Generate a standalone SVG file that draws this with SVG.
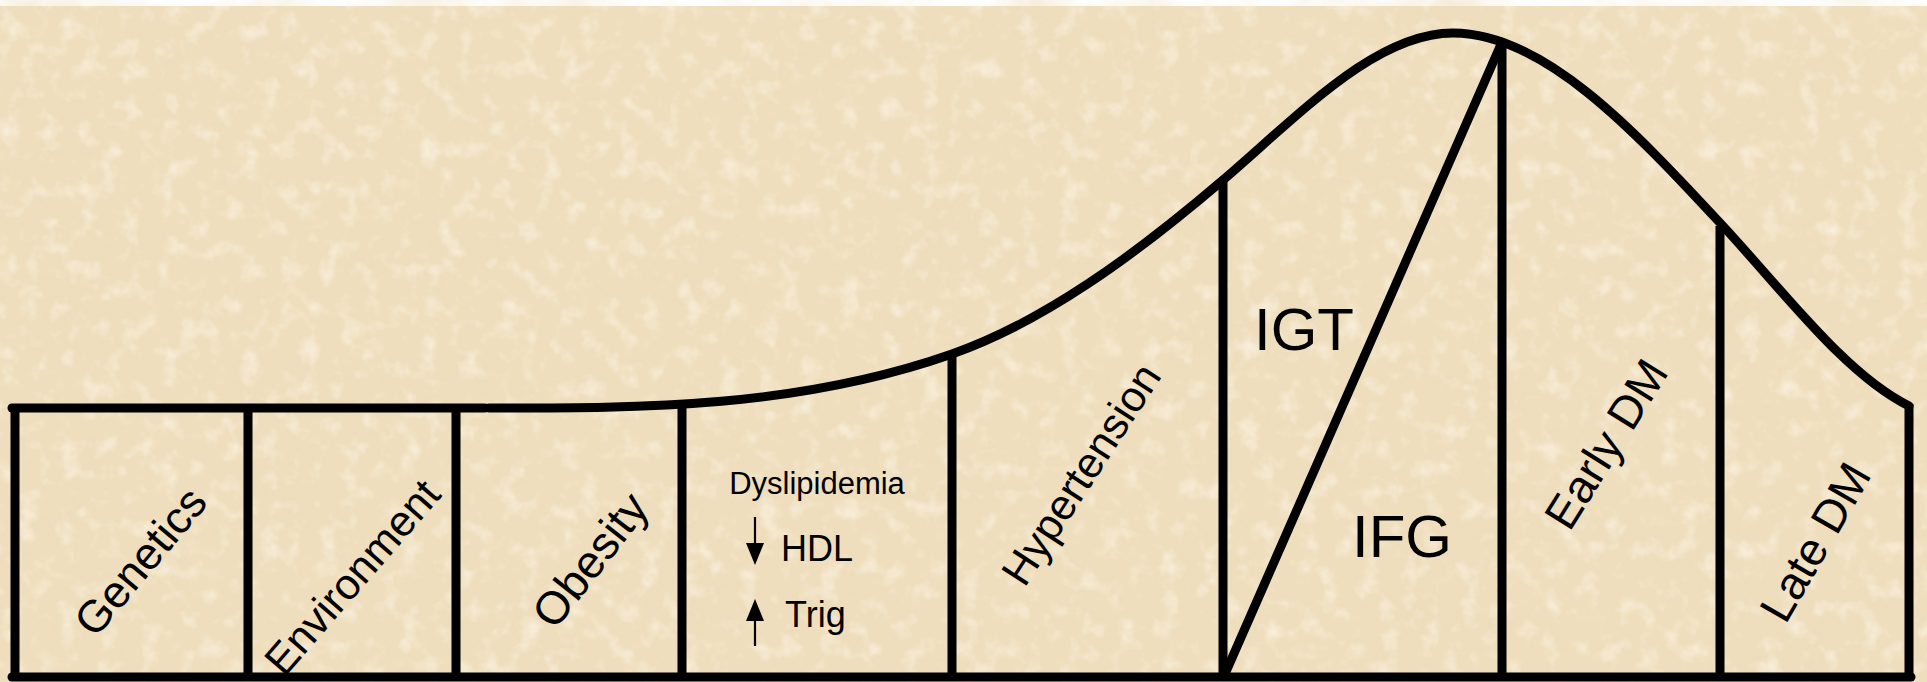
<svg xmlns="http://www.w3.org/2000/svg" width="1927" height="682" viewBox="0 0 1927 682">
  <defs>
    <filter id="paper" x="0" y="0" width="100%" height="100%" filterUnits="userSpaceOnUse">
      <feTurbulence type="fractalNoise" baseFrequency="0.008 0.014" numOctaves="4" seed="7" result="n1"/>
      <feColorMatrix in="n1" type="matrix" values="0 0 0 0 0.85  0 0 0 0 0.72  0 0 0 0 0.50  2.4 0 0 0 -1.05" result="tan"/>
      <feTurbulence type="fractalNoise" baseFrequency="0.05" numOctaves="3" seed="3" result="n2"/>
      <feColorMatrix in="n2" type="matrix" values="0 0 0 0 0.98  0 0 0 0 0.93  0 0 0 0 0.82  2.2 0 0 0 -1.12" result="light"/>
      <feMerge>
        <feMergeNode in="tan"/>
        <feMergeNode in="light"/>
      </feMerge>
    </filter>
    <style>
      .ln { fill: none; stroke: #000; stroke-width: 9; stroke-linecap: round; stroke-linejoin: round; }
      .vl { fill: none; stroke: #000; stroke-width: 9; stroke-linecap: butt; }
      .lbl { font-family: "Liberation Sans", Arial, sans-serif; fill: #000; text-anchor: middle; }
      .txt { font-family: "Liberation Sans", Arial, sans-serif; fill: #000; }
    </style>
  </defs>

  <g id="background">
    <rect x="0" y="0" width="1927" height="682" fill="#ffffff"/>
    <rect x="0" y="6" width="1927" height="676" fill="#EFDEBD"/>
    <rect x="0" y="6" width="1927" height="676" fill="#EFDEBD" filter="url(#paper)" opacity="0.7"/>
  </g>

  <g id="connectors">
    <line class="ln" x1="12" y1="677" x2="1911" y2="677"/>
    <line class="ln" x1="12" y1="408" x2="485" y2="408"/>
    <path class="ln" d="M489,408 C645,408 798,408 952,354 C1042,322.5 1133,257 1223,180 C1300,114 1376,33 1453,33 C1543,33 1632,128 1722,225 C1785,293 1846,375 1909,406"/>
    <line class="vl" x1="15" y1="404" x2="15" y2="677"/>
    <line class="vl" x1="248" y1="408" x2="248" y2="677"/>
    <line class="vl" x1="456" y1="408" x2="456" y2="677"/>
    <line class="vl" x1="682" y1="403" x2="682" y2="677"/>
    <line class="vl" x1="952" y1="354" x2="952" y2="677"/>
    <line class="vl" x1="1223" y1="180" x2="1223" y2="677"/>
    <line class="vl" x1="1502" y1="40" x2="1502" y2="677"/>
    <line class="vl" x1="1720" y1="226" x2="1720" y2="677"/>
    <line class="vl" x1="1909" y1="404" x2="1909" y2="677"/>
    <line class="ln" x1="1225" y1="674" x2="1502" y2="42"/>
  </g>

  <g id="node-genetics">
    <text class="lbl" font-size="45" transform="translate(140,561) rotate(-50)" y="16">Genetics</text>
  </g>
  <g id="node-environment">
    <text class="lbl" font-size="43" transform="translate(352,577) rotate(-49)" y="15">Environment</text>
  </g>
  <g id="node-obesity">
    <text class="lbl" font-size="46" transform="translate(590,560) rotate(-52)" y="16">Obesity</text>
  </g>
  <g id="node-dyslipidemia">
    <text class="lbl" font-size="31" x="817" y="494">Dyslipidemia</text>
    <line x1="755" y1="517" x2="755" y2="548" stroke="#000" stroke-width="2.2"/>
    <polygon points="746,543 764,543 755,565" fill="#000"/>
    <text class="txt" font-size="36" x="781" y="561">HDL</text>
    <polygon points="755,599 746,621 764,621" fill="#000"/>
    <line x1="755" y1="616" x2="755" y2="646" stroke="#000" stroke-width="2.2"/>
    <text class="txt" font-size="36" x="785" y="627">Trig</text>
  </g>
  <g id="node-hypertension">
    <text class="lbl" font-size="43" transform="translate(1081,474) rotate(-57)" y="15">Hypertension</text>
  </g>
  <g id="node-igt">
    <text class="txt" font-size="60" x="1254" y="350">IGT</text>
  </g>
  <g id="node-ifg">
    <text class="txt" font-size="60" x="1352" y="557">IFG</text>
  </g>
  <g id="node-early-dm">
    <text class="lbl" font-size="46" transform="translate(1606,444) rotate(-58)" y="16">Early DM</text>
  </g>
  <g id="node-late-dm">
    <text class="lbl" font-size="46" transform="translate(1815,542) rotate(-60)" y="16">Late DM</text>
  </g>
</svg>
